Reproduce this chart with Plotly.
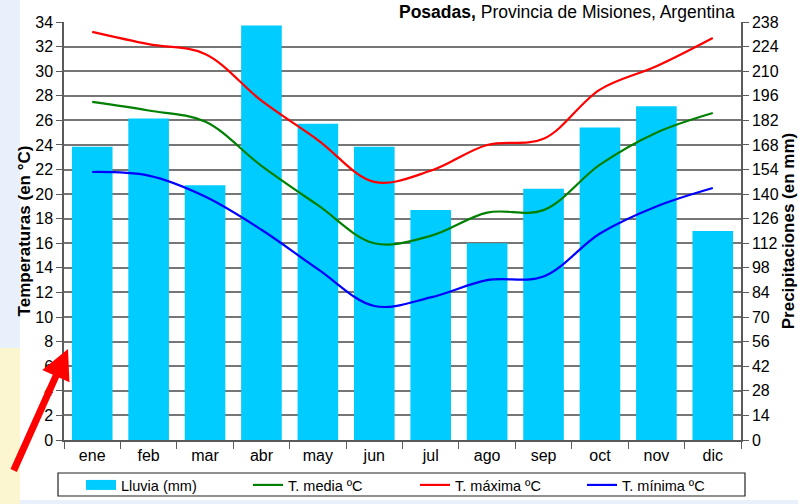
import plotly.graph_objects as go

months = ["ene", "feb", "mar", "abr", "may", "jun", "jul", "ago", "sep", "oct", "nov", "dic"]
lluvia_mm = [167, 183, 145, 236, 180, 167, 131, 112, 143, 178, 190, 119]
t_media = [27.5, 26.8, 25.9, 22.3, 19.1, 16.0, 16.6, 18.5, 18.7, 22.4, 25.0, 26.6]
t_maxima = [33.2, 32.2, 31.4, 27.6, 24.4, 21.0, 21.9, 24.0, 24.5, 28.5, 30.4, 32.7]
t_minima = [21.8, 21.5, 19.8, 17.1, 13.9, 10.9, 11.6, 13.0, 13.3, 16.8, 19.0, 20.5]

temp_ticks = list(range(0, 35, 2))
rain_ticks = list(range(0, 239, 14))

FONT = "Liberation Sans, Arial, sans-serif"
CYAN = "#00CCFF"
GRID = "#767676"
AXC = "#5a5a5a"

fig = go.Figure()

fig.add_trace(go.Bar(
    x=months, y=lluvia_mm, yaxis="y", marker=dict(color=CYAN, line=dict(width=0)),
    width=0.72, showlegend=False, name="Lluvia (mm)"))

# legend entry for rainfall (thick line sample looks like the rectangle)
fig.add_trace(go.Scatter(x=[None], y=[None], mode="lines", yaxis="y2",
                         line=dict(color=CYAN, width=14), name="Lluvia (mm)"))

for name, vals, col in [("T. media ºC", t_media, "#008000"),
                        ("T. máxima ºC", t_maxima, "#FF0000"),
                        ("T. mínima ºC", t_minima, "#0000FF")]:
    fig.add_trace(go.Scatter(x=months, y=vals, yaxis="y2", mode="lines", name=name,
                             line=dict(color=col, width=2.2, shape="spline", smoothing=1.0)))

W, H = 798, 504
L, R, T, B = 64, 57, 22, 64
pw, ph = W - L - R, H - T - B

def px(x):
    return (x - L) / pw

def py(y):
    return (H - B - y) / ph

shapes = [
    dict(type="rect", xref="paper", yref="paper", x0=px(20), x1=px(800), y0=py(500), y1=py(-2),
         fillcolor="white", line=dict(width=0), layer="below"),
    dict(type="rect", xref="paper", yref="paper", x0=px(-2), x1=px(20), y0=py(506), y1=py(348),
         fillcolor="#FBF6CF", line=dict(width=0), layer="below"),
    dict(type="rect", xref="paper", yref="paper", x0=px(58), x1=px(745), y0=py(496), y1=py(473),
         fillcolor="rgba(0,0,0,0)", line=dict(color="#222", width=1.2), layer="above"),
]

annotations = [
    dict(xref="paper", yref="paper", x=px(737), y=py(12), xanchor="right", yanchor="middle",
         text="<b>Posadas,</b> Provincia de Misiones, Argentina", showarrow=False,
         font=dict(family=FONT, size=17.5, color="black")),
    dict(xref="paper", yref="paper", x=px(68), y=py(349), text="", showarrow=True,
         ax=-55, ay=123, arrowcolor="#FF0000", arrowwidth=7, arrowhead=2, arrowsize=0.85,
         standoff=0, startstandoff=0),
]

fig.update_layout(
    width=W, height=H,
    margin=dict(l=L, r=R, t=T, b=B, pad=0, autoexpand=False),
    paper_bgcolor="#E8F1FB", plot_bgcolor="rgba(0,0,0,0)",
    font=dict(family=FONT, size=16, color="black"),
    bargap=0.28,
    xaxis=dict(type="category", range=[-0.5, 11.5], showgrid=False, ticks="outside",
               tickson="boundaries", ticklen=7, tickcolor=AXC, showline=True, linecolor=AXC,
               linewidth=1.5, tickfont=dict(size=16)),
    yaxis=dict(side="right", range=[0, 238], tickvals=rain_ticks, showgrid=True, gridcolor=GRID,
               gridwidth=1.5, showline=True, linecolor=AXC, linewidth=1.5, ticks="outside",
               ticklen=6, tickcolor=AXC, zeroline=False,
               title=dict(text="<b>Precipitaciones (en mm)</b>", font=dict(size=17), standoff=6)),
    yaxis2=dict(side="left", overlaying="y", range=[0, 34], tickvals=temp_ticks, showgrid=False,
                showline=True, linecolor=AXC, linewidth=1.5, ticks="outside", ticklen=6,
                tickcolor=AXC, zeroline=False,
                title=dict(text="<b>Temperaturas (en °C)</b>", font=dict(size=17), standoff=0)),
    legend=dict(orientation="h", x=px(81), y=py(469), xanchor="left", yanchor="top",
                bgcolor="rgba(0,0,0,0)", borderwidth=0, font=dict(size=14.5),
                entrywidth=122, entrywidthmode="pixels", itemwidth=30),
    shapes=shapes, annotations=annotations,
)

fig.write_html("out.html", config={"displayModeBar": False},
               post_script="document.body.style.margin='0';document.body.style.overflow='hidden';")
